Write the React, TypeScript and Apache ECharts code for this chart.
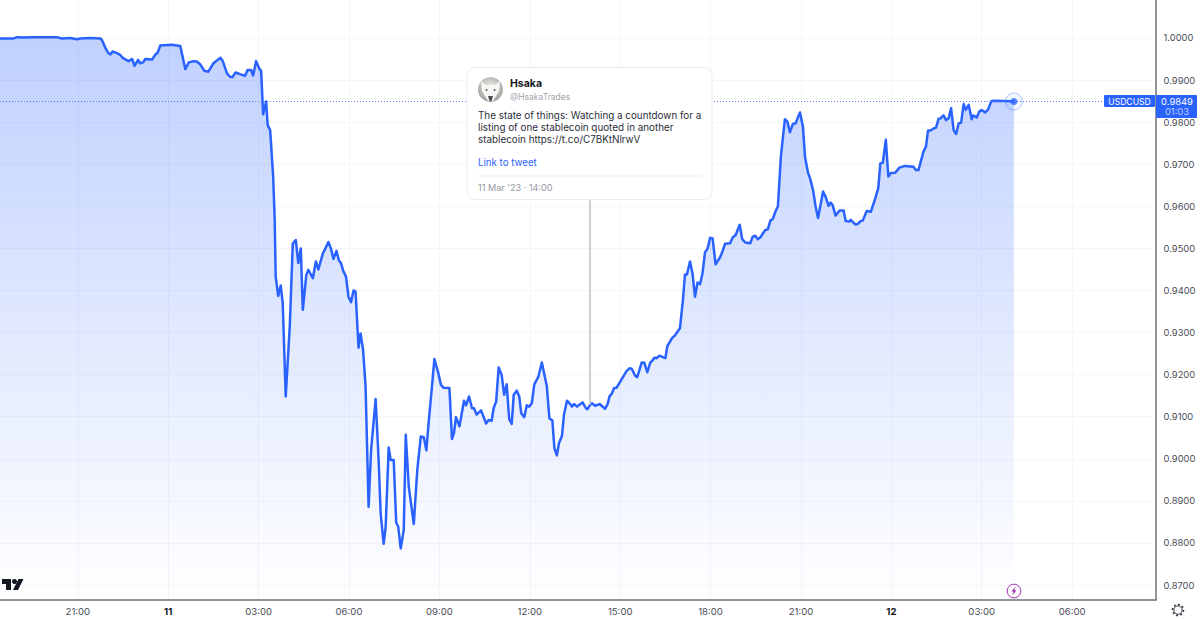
import { useEffect, useRef } from 'react';
import * as echarts from 'echarts';

// minutes relative to 11 Mar 00:00
const times = [
  -335, -308, -301, -288, -268, -222, -212, -195, -182, -175, -155, -135, -132, -125, -119, -115, -111, -102, -97, -90,
  -79, -72, -67, -60, -56, -50, -46, -32, -26, -21, -16, -9, 7, 14, 24, 34, 41, 51, 57, 64,
  72, 80, 90, 104, 109, 117, 123, 128, 134, 143, 153, 158, 165, 169, 175, 182, 185, 189, 195, 198,
  203, 209, 212, 214, 219, 224, 228, 234, 242, 248, 254, 259, 264, 268, 275, 279, 288, 294, 299, 308,
  319, 324, 329, 335, 340, 344, 349, 354, 359, 364, 369, 373, 379, 383, 388, 393, 399, 404, 413, 419,
  423, 429, 433, 439, 443, 449, 454, 458, 463, 469, 473, 479, 489, 496, 503, 509, 514, 519, 524, 530,
  538, 543, 548, 560, 565, 569, 573, 580, 589, 593, 599, 605, 609, 614, 623, 633, 638, 644, 648, 653,
  658, 664, 669, 674, 679, 684, 688, 694, 699, 703, 709, 714, 719, 724, 729, 737, 744, 754, 759, 765,
  769, 774, 778, 784, 788, 794, 799, 804, 808, 814, 825, 832, 835, 840, 844, 850, 859, 870, 875, 879,
  883, 888, 893, 901, 913, 919, 923, 930, 934, 943, 948, 954, 960, 964, 968, 973, 978, 990, 994, 1004,
  1009, 1019, 1025, 1029, 1033, 1039, 1044, 1049, 1054, 1059, 1064, 1069, 1074, 1079, 1084, 1090, 1099, 1104, 1109, 1119,
  1124, 1130, 1138, 1143, 1149, 1159, 1164, 1169, 1174, 1179, 1189, 1194, 1199, 1204, 1210, 1214, 1220, 1228, 1233, 1238,
  1244, 1249, 1258, 1264, 1268, 1274, 1278, 1284, 1289, 1294, 1304, 1309, 1315, 1319, 1323, 1329, 1337, 1345, 1349, 1357,
  1359, 1368, 1373, 1379, 1383, 1391, 1399, 1407, 1414, 1418, 1423, 1429, 1434, 1439, 1448, 1456, 1467, 1484, 1489, 1494,
  1504, 1509, 1513, 1518, 1524, 1529, 1534, 1538, 1544, 1549, 1554, 1559, 1564, 1569, 1574, 1579, 1584, 1588, 1594, 1600,
  1603, 1610, 1615, 1620, 1627, 1633, 1639, 1643, 1665, 1684,
];

const prices = [
  0.9999, 0.9999, 1.0002, 1.0001, 1.0002, 1.0002, 0.9999, 1.0, 0.9997, 0.9999, 1.0, 0.9999, 0.9995, 0.9976, 0.9964, 0.9961, 0.9968, 0.9964, 0.9961, 0.9952,
  0.9945, 0.995, 0.9934, 0.9948, 0.994, 0.9942, 0.995, 0.9949, 0.996, 0.9965, 0.9982, 0.9983, 0.9984, 0.9983, 0.9981, 0.9926, 0.9942, 0.9945, 0.9944, 0.9937,
  0.9922, 0.992, 0.994, 0.9953, 0.9944, 0.9916, 0.9908, 0.9907, 0.9918, 0.9914, 0.991, 0.9924, 0.9924, 0.9911, 0.9945, 0.9926, 0.9922, 0.9819, 0.9849, 0.9793,
  0.9781, 0.967, 0.9568, 0.9433, 0.9387, 0.9412, 0.937, 0.9148, 0.9314, 0.9511, 0.952, 0.9465, 0.95, 0.9354, 0.9437, 0.9449, 0.9429, 0.9469, 0.945, 0.9488,
  0.9515, 0.95, 0.9475, 0.9494, 0.9471, 0.9465, 0.9445, 0.9433, 0.9385, 0.9372, 0.94, 0.9398, 0.9264, 0.9298, 0.9259, 0.9172, 0.8886, 0.9021, 0.9142, 0.8997,
  0.8871, 0.8798, 0.8839, 0.9027, 0.8997, 0.8997, 0.8848, 0.8839, 0.8787, 0.8831, 0.9057, 0.8934, 0.8845, 0.8974, 0.9053, 0.9051, 0.902, 0.9092, 0.9156, 0.9237,
  0.9203, 0.9176, 0.9169, 0.9168, 0.9047, 0.9061, 0.9099, 0.9077, 0.9138, 0.9127, 0.9148, 0.912, 0.912, 0.9105, 0.9115, 0.9084, 0.9092, 0.909, 0.912, 0.9136,
  0.9217, 0.9199, 0.9152, 0.9177, 0.9094, 0.9083, 0.9152, 0.9162, 0.9148, 0.9108, 0.9099, 0.9127, 0.9124, 0.9132, 0.9177, 0.9195, 0.9229, 0.9172, 0.9096, 0.9091,
  0.9025, 0.9008, 0.9037, 0.9054, 0.9104, 0.9138, 0.9132, 0.9124, 0.913, 0.9124, 0.9134, 0.912, 0.9118, 0.9128, 0.9132, 0.9126, 0.913, 0.9119, 0.913, 0.9149,
  0.9154, 0.9168, 0.9169, 0.9185, 0.9209, 0.9215, 0.9214, 0.9197, 0.9194, 0.9229, 0.9228, 0.9206, 0.9229, 0.9233, 0.924, 0.9239, 0.9245, 0.9239, 0.9268, 0.9288,
  0.9293, 0.931, 0.9378, 0.9438, 0.9438, 0.9469, 0.9441, 0.9385, 0.9419, 0.9415, 0.9441, 0.9491, 0.9499, 0.9525, 0.9524, 0.9462, 0.9479, 0.9494, 0.9511, 0.9512,
  0.9526, 0.9532, 0.9556, 0.9522, 0.9514, 0.9512, 0.9528, 0.953, 0.9522, 0.9526, 0.9544, 0.9545, 0.9566, 0.957, 0.959, 0.9599, 0.9718, 0.9807, 0.9801, 0.9776,
  0.9796, 0.9797, 0.9823, 0.9789, 0.9718, 0.968, 0.9667, 0.9639, 0.9601, 0.9572, 0.9635, 0.9623, 0.9601, 0.9609, 0.9603, 0.9578, 0.959, 0.959, 0.9565, 0.9564,
  0.9568, 0.9557, 0.9558, 0.9565, 0.9566, 0.9589, 0.9587, 0.9615, 0.9643, 0.9702, 0.9704, 0.9758, 0.9671, 0.9679, 0.968, 0.9692, 0.9696, 0.9694, 0.9686, 0.9686,
  0.973, 0.9742, 0.978, 0.978, 0.9785, 0.9787, 0.9808, 0.9809, 0.9816, 0.9805, 0.9809, 0.9833, 0.9781, 0.9772, 0.9797, 0.9799, 0.9843, 0.9829, 0.9841, 0.9807,
  0.9816, 0.9811, 0.9825, 0.9829, 0.9823, 0.9831, 0.985, 0.9851, 0.985, 0.9849,
];

const timeTicks = [-180, 0, 180, 360, 540, 720, 900, 1080, 1260, 1440, 1620, 1800];
const timeLabels = ['21:00', '11', '03:00', '06:00', '09:00', '12:00', '15:00', '18:00', '21:00', '12', '03:00', '06:00'];
const priceTicks = [0.87, 0.88, 0.89, 0.9, 0.91, 0.92, 0.93, 0.94, 0.95, 0.96, 0.97, 0.98, 0.99, 1.0];

const lastPrice = 0.9849;
const lastTime = 1684;
const tweetTime = 840;
const tweetPrice = 0.9128;
const tweetLines = [
  'The state of things: Watching a countdown for a',
  'listing of one stablecoin quoted in another',
  'stablecoin https://t.co/C7BKtNlrwV',
];

const BLUE = '#2962ff';
const FONT = 'Inter, sans-serif';

const label = (text: string, x: number, y: number, font: string, fill: string, align = 'left') => ({
  type: 'text',
  x,
  y,
  z: 102,
  silent: true,
  style: { text, font, fill, align, verticalAlign: 'middle' },
});

const App = () => {
  const chartRef = useRef<HTMLDivElement>(null);

  useEffect(() => {
    if (!chartRef.current) return;

    const myChart = echarts.init(chartRef.current, undefined, { renderer: 'svg' });

    const option = {
      animation: false,
      grid: { left: 0, right: 44, top: 0, bottom: 20, outerBoundsMode: 'none' },
      xAxis: {
        type: 'value',
        min: -335,
        max: 1967,
        axisLine: { onZero: false, lineStyle: { color: '#6f727c', width: 1.5 } },
        axisTick: { show: false, customValues: timeTicks },
        splitLine: { show: true, lineStyle: { color: '#f5f6f9', width: 1 } },
        axisLabel: {
          customValues: timeTicks,
          margin: 6,
          fontFamily: FONT,
          fontSize: 9.6,
          color: '#4a4d57',
          formatter: (value: number) => {
            const text = timeLabels[timeTicks.indexOf(value)];
            return text.length === 2 ? `{day|${text}}` : text;
          },
          rich: { day: { fontFamily: FONT, fontSize: 9.6, fontWeight: 'bold', color: '#131722' } },
        },
      },
      yAxis: {
        type: 'value',
        position: 'right',
        min: 0.86644,
        max: 1.00903,
        axisLine: { show: true, onZero: false, lineStyle: { color: '#6f727c', width: 1.5 } },
        axisTick: { show: false, customValues: priceTicks },
        splitLine: { show: true, lineStyle: { color: '#f5f6f9', width: 1 } },
        axisLabel: {
          customValues: priceTicks,
          margin: 7.5,
          fontFamily: FONT,
          fontSize: 9.4,
          color: '#4a4d57',
          formatter: (value: number) => value.toFixed(4),
        },
      },
      series: [
        {
          type: 'line',
          data: times.map((t, i) => [t, prices[i]]),
          symbol: 'none',
          smooth: false,
          lineStyle: { color: BLUE, width: 2.5, join: 'round' },
          itemStyle: { color: BLUE },
          areaStyle: {
            origin: 'start',
            color: new echarts.graphic.LinearGradient(0, 0, 0, 1, [
              { offset: 0, color: 'rgba(41,98,255,0.42)' },
              { offset: 1, color: 'rgba(41,98,255,0)' },
            ]),
          },
          markLine: {
            silent: true,
            symbol: 'none',
            precision: 4,
            label: { show: false },
            data: [
              [
                { coord: [-335, lastPrice], lineStyle: { color: '#4f7dff', type: [1, 2], width: 1 } },
                { coord: [1967, lastPrice] },
              ],
              [
                { coord: [tweetTime, tweetPrice], lineStyle: { color: '#bdbec3', type: 'solid', width: 1.5 } },
                { coord: [tweetTime, 0.968] },
              ],
            ],
          },
        },
        {
          type: 'scatter',
          data: [[lastTime, lastPrice]],
          symbolSize: 17,
          itemStyle: { color: 'rgba(41,98,255,0.07)', borderColor: 'rgba(41,98,255,0.45)', borderWidth: 1 },
          z: 3,
        },
        {
          type: 'scatter',
          data: [[lastTime, lastPrice]],
          symbolSize: 7,
          itemStyle: { color: BLUE },
          z: 4,
        },
      ],
      graphic: [
        // price tags
        { type: 'rect', z: 100, shape: { x: 1104, y: 95, width: 51, height: 12, r: 1 }, style: { fill: BLUE } },
        label('USDCUSD', 1129.5, 101.5, `8.6px ${FONT}`, '#ffffff', 'center'),
        { type: 'rect', z: 100, shape: { x: 1156, y: 95, width: 41, height: 23, r: 1 }, style: { fill: BLUE } },
        label('0.9849', 1177, 101, `9.4px ${FONT}`, '#ffffff', 'center'),
        label('01:03', 1177, 111.5, `9.4px ${FONT}`, '#b9ccff', 'center'),
        // tweet card
        {
          type: 'rect',
          z: 100,
          shape: { x: 467, y: 67.5, width: 245, height: 132, r: 8 },
          style: { fill: '#ffffff', stroke: '#e9ebf0', lineWidth: 1 },
        },
        {
          type: 'circle',
          z: 101,
          shape: { cx: 490.5, cy: 89.5, r: 12.5 },
          style: {
            fill: new echarts.graphic.RadialGradient(0.5, 0.4, 0.6, [
              { offset: 0, color: '#f1f1ef' },
              { offset: 1, color: '#9d9d99' },
            ]),
          },
        },
        {
          type: 'polygon',
          z: 102,
          shape: { points: [[481, 81], [486, 85], [495, 85], [500, 81], [499, 91], [493, 101], [488, 101], [482, 91]] },
          style: { fill: '#f6f6f4' },
        },
        { type: 'polygon', z: 103, shape: { points: [[488, 96], [493, 96], [491.5, 101], [489.5, 101]] }, style: { fill: '#4a4a48' } },
        { type: 'circle', z: 103, shape: { cx: 486.5, cy: 90, r: 0.9 }, style: { fill: '#444' } },
        { type: 'circle', z: 103, shape: { cx: 494.5, cy: 90, r: 0.9 }, style: { fill: '#444' } },
        label('Hsaka', 510, 83.5, `bold 10.5px ${FONT}`, '#131722'),
        label('@HsakaTrades', 510, 96.5, `8.5px ${FONT}`, '#a3a6af'),
        label(tweetLines[0], 478, 114.5, `9.85px ${FONT}`, '#2a2e39'),
        label(tweetLines[1], 478, 126.5, `9.85px ${FONT}`, '#2a2e39'),
        label(tweetLines[2], 478, 138.5, `9.85px ${FONT}`, '#2a2e39'),
        label('Link to tweet', 478, 162.5, `9.7px ${FONT}`, BLUE),
        { type: 'rect', z: 101, shape: { x: 478, y: 175.5, width: 223, height: 1 }, style: { fill: '#e9ebf0' } },
        label("11 Mar '23 · 14:00", 478, 187, `9.1px ${FONT}`, '#9598a1'),
        // logo
        { type: 'polygon', z: 100, shape: { points: [[2, 579], [11, 579], [11, 590], [6, 590], [6, 584], [2, 584]] }, style: { fill: '#131722' } },
        { type: 'circle', z: 100, shape: { cx: 14.5, cy: 581.5, r: 2.5 }, style: { fill: '#131722' } },
        { type: 'polygon', z: 100, shape: { points: [[18.5, 579], [23.5, 579], [18, 590], [13, 590]] }, style: { fill: '#131722' } },
        // event marker
        { type: 'circle', z: 100, shape: { cx: 1014, cy: 591, r: 6.8 }, style: { fill: '#ffffff', stroke: '#9c27b0', lineWidth: 1 } },
        {
          type: 'polygon',
          z: 101,
          shape: { points: [[1015.8, 586.5], [1011.5, 591.5], [1013.7, 591.5], [1012.2, 595.5], [1016.5, 590.2], [1014.3, 590.2]] },
          style: { fill: '#9c27b0' },
        },
        // settings
        { type: 'circle', z: 100, shape: { cx: 1178, cy: 610, r: 5.4 }, style: { fill: 'none', stroke: '#3a3d46', lineWidth: 1.8, lineDash: [1.8, 2.4] } },
        { type: 'circle', z: 101, shape: { cx: 1178, cy: 610, r: 4.2 }, style: { fill: '#ffffff', stroke: '#3a3d46', lineWidth: 1 } },
      ],
    };

    myChart.setOption(option);

    return () => {
      myChart.dispose();
    };
  }, []);

  return <div ref={chartRef} style={{ position: 'absolute', left: 0, top: 0, width: '1200px', height: '620px', background: '#ffffff' }} />;
};

export default App;
